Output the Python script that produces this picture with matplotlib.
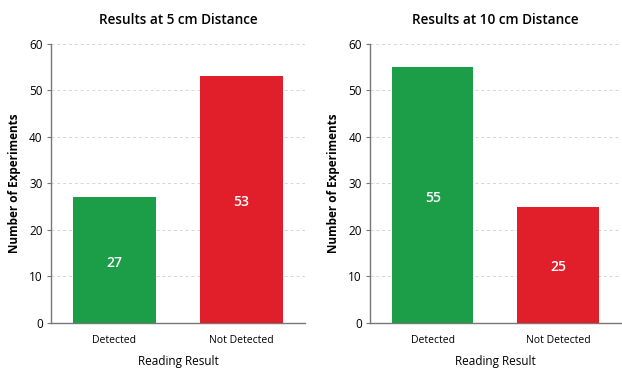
import matplotlib
matplotlib.use("Agg")
import matplotlib.pyplot as plt

categories = ["Detected", "Not Detected"]
values_5cm = [27, 53]
values_10cm = [55, 25]
titles = ["Results at 5 cm Distance", "Results at 10 cm Distance"]
yticks = [0, 10, 20, 30, 40, 50, 60]
colors = ["#1c9e48", "#e11f2b"]

plt.rcParams['font.family'] = ['Open Sans', 'DejaVu Sans']

fig = plt.figure(figsize=(6.22, 3.71), dpi=100)
positions = [[0.082, 0.130, 0.408, 0.752], [0.595, 0.130, 0.403, 0.752]]

for pos, vals, title in zip(positions, [values_5cm, values_10cm], titles):
    ax = fig.add_axes(pos)
    x = range(len(categories))
    bars = ax.bar(x, vals, width=0.65, color=colors, zorder=3)
    for b, v in zip(bars, vals):
        ax.text(b.get_x() + b.get_width() / 2, v / 2 - 0.6, str(v), ha='center', va='center',
                color='white', fontsize=10, fontweight='semibold', zorder=4)
    ax.set_xlim(-0.5, 1.5)
    ax.set_ylim(0, 60)
    ax.set_yticks(yticks)
    ax.set_xticks(list(x))
    ax.set_xticklabels(categories, fontsize=7.5)
    ax.tick_params(axis='y', labelsize=8.5, length=3, color='#777777', width=0.8, pad=3)
    ax.tick_params(axis='x', length=0, pad=9)
    ax.grid(axis='y', linestyle=(0, (3, 3)), color='#d5d5d5', linewidth=0.7, zorder=0)
    for s in ['top', 'right']:
        ax.spines[s].set_visible(False)
    for s in ['left', 'bottom']:
        ax.spines[s].set_color('#777777')
        ax.spines[s].set_linewidth(1.0)
    ax.set_title(title, fontsize=9.8, fontweight='semibold', pad=14)
    ax.set_ylabel("Number of Experiments", fontsize=8.5, fontweight='bold', labelpad=6)
    ax.set_xlabel("Reading Result", fontsize=8.5, labelpad=6)

fig.savefig("out.png", dpi=100, facecolor='white')
